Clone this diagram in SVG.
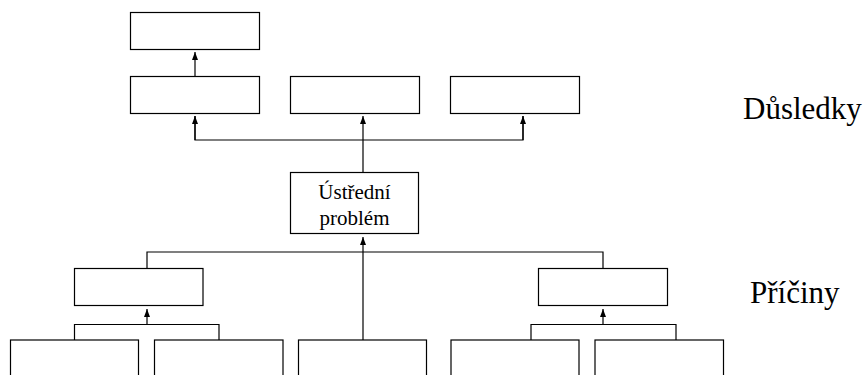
<svg xmlns="http://www.w3.org/2000/svg" width="866" height="375" viewBox="0 0 866 375">
<defs>
<style>
.box{fill:#fff;stroke:#000;stroke-width:1.2}
.ln{fill:none;stroke:#000;stroke-width:1.2}
text{font-family:'Liberation Serif','DejaVu Serif',serif;fill:#000}
.bt{font-size:21px;text-anchor:middle}
.side{font-size:31px}
</style>
<marker id="ah" markerUnits="userSpaceOnUse" viewBox="0 0 8 6" refX="8" refY="3" markerWidth="8" markerHeight="6" orient="auto">
<path d="M0,0 L8,3 L0,6 z" fill="#000"/>
</marker>
</defs>
<rect width="866" height="375" fill="#fff"/>
<g id="connectors">
<line class="ln" x1="195" y1="76" x2="195" y2="52" marker-end="url(#ah)"/>
<line class="ln" x1="363" y1="172" x2="363" y2="140"/>
<polyline class="ln" points="195,116 195,140 523,140 523,116"/>
<line class="ln" x1="195" y1="140" x2="195" y2="116" marker-end="url(#ah)"/>
<line class="ln" x1="363" y1="140" x2="363" y2="116" marker-end="url(#ah)"/>
<line class="ln" x1="523" y1="140" x2="523" y2="116" marker-end="url(#ah)"/>
<line class="ln" x1="363" y1="340" x2="363" y2="237" marker-end="url(#ah)"/>
<polyline class="ln" points="147,268 147,252 603,252 603,268"/>
<line class="ln" x1="147" y1="324.5" x2="147" y2="309" marker-end="url(#ah)"/>
<polyline class="ln" points="74.5,340 74.5,324.5 219,324.5 219,340"/>
<line class="ln" x1="603" y1="324.5" x2="603" y2="309" marker-end="url(#ah)"/>
<polyline class="ln" points="531,340 531,324.5 676,324.5 676,340"/>
</g>
<g id="effect-top"><rect class="box" x="130.5" y="12.5" width="129" height="37"/></g>
<g id="effect-1"><rect class="box" x="130.5" y="76.5" width="129" height="37"/></g>
<g id="effect-2"><rect class="box" x="290.5" y="76.5" width="129" height="37"/></g>
<g id="effect-3"><rect class="box" x="450.5" y="76.5" width="129" height="37"/></g>
<g id="central">
<rect class="box" x="290.5" y="172.5" width="128" height="61"/>
<text class="bt" x="354.5" y="199" font-family="Liberation Serif, DejaVu Serif, serif">Ústřední</text>
<text class="bt" x="354.5" y="225" font-family="Liberation Serif, DejaVu Serif, serif">problém</text>
</g>
<g id="cause-left"><rect class="box" x="74.5" y="268.5" width="128.5" height="37"/></g>
<g id="cause-right"><rect class="box" x="538.5" y="268.5" width="129" height="37"/></g>
<g id="subcause-1"><rect class="box" x="10.5" y="340" width="128" height="50"/></g>
<g id="subcause-2"><rect class="box" x="154.5" y="340" width="128.5" height="50"/></g>
<g id="subcause-3"><rect class="box" x="298.5" y="340" width="128" height="50"/></g>
<g id="subcause-4"><rect class="box" x="451" y="340" width="128" height="50"/></g>
<g id="subcause-5"><rect class="box" x="595" y="340" width="128.5" height="50"/></g>
<g id="labels">
<text class="side" x="743" y="119" font-family="Liberation Serif, DejaVu Serif, serif">Důsledky</text>
<text class="side" x="750" y="303" font-family="Liberation Serif, DejaVu Serif, serif">Příčiny</text>
</g>
</svg>
